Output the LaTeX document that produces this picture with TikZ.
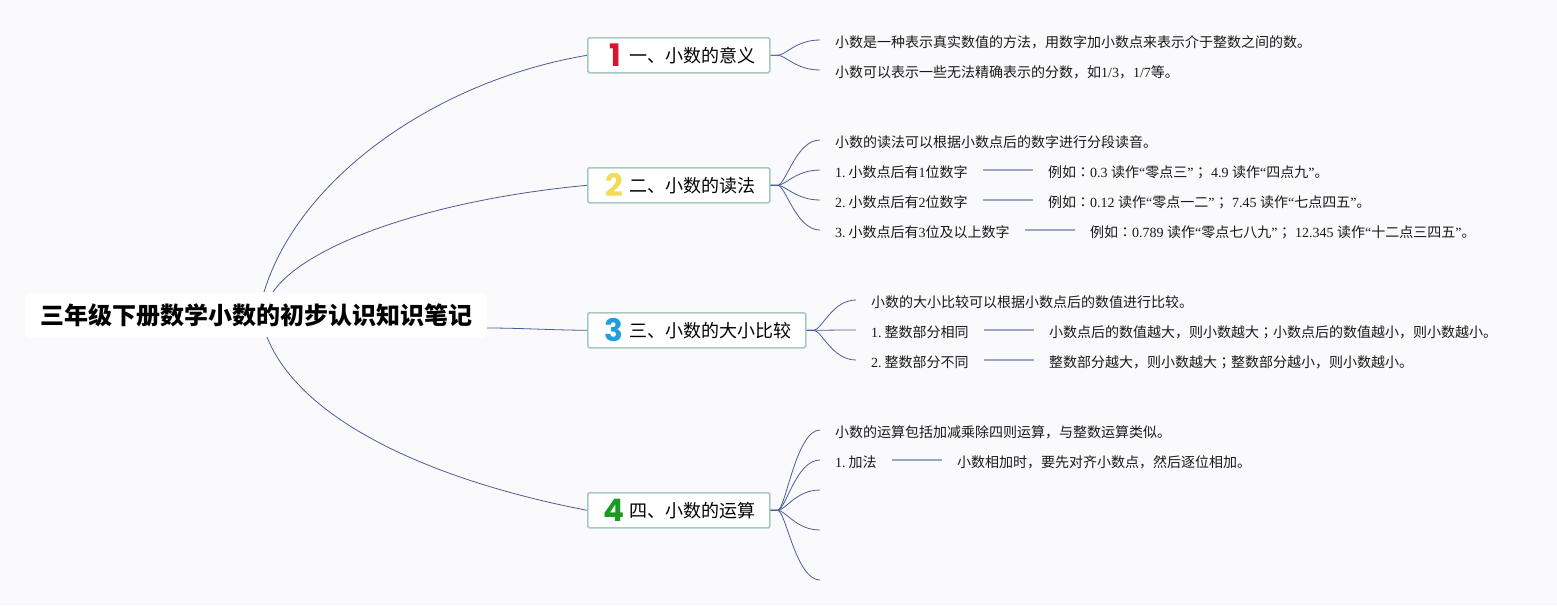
\documentclass[tikz,border=0pt]{standalone}
\usepackage{fontspec}
\setmainfont{Liberation Serif}
\newfontfamily\cjk{Noto Sans CJK SC}
\newfontfamily\cjkpunct{Noto Sans CJK TC}
\newfontfamily\iconfont{Poppins}[UprightFont=* Bold]
\newcommand\zh[1]{{\cjk #1}}
\newcommand\zp[1]{{\cjkpunct #1}}
\newcommand\numsp{\hspace{3pt}}
\definecolor{bgc}{HTML}{FAFAFC}
\definecolor{linec}{HTML}{4C5C98}
\definecolor{dashc}{HTML}{9BA6C6}
\definecolor{boxc}{HTML}{A5CBC0}
\definecolor{iconred}{HTML}{D9142E}
\definecolor{iconyellow}{HTML}{F2DC55}
\definecolor{iconblue}{HTML}{1F9FDD}
\definecolor{icongreen}{HTML}{1A9A20}
\tikzset{
  x=1pt,y=-1pt,
  rootbox/.style={fill=white,rounded corners=6pt,minimum width=462pt,minimum height=45pt,inner sep=0pt,font=\fontsize{24}{28}\cjk\bfseries,text=black},
  topic/.style={draw=boxc,line width=1.6pt,fill=white,rounded corners=1.5pt,minimum height=35pt,inner sep=0pt,anchor=north west},
  topictext/.style={anchor=base west,inner sep=0pt,font=\fontsize{18}{20}\cjk,text=black},
  icon/.style={anchor=base,inner sep=0pt,font=\fontsize{31}{32}\iconfont},
  leaf/.style={anchor=base west,inner sep=0pt,font=\fontsize{14}{16}\selectfont,text=black!90},
  branch/.style={draw=linec,line width=0.8pt},
  sub/.style={draw=dashc,line width=1.3pt,shorten <=15.5pt,shorten >=15pt},
}
\begin{document}
\begin{tikzpicture}
\useasboundingbox[fill=bgc] (0,0) rectangle (1557,605);
% root
\node[rootbox] (root) at (256,315) {三年级下册数学小数的初步认识知识笔记};
% topics
\node[topic,minimum width=182pt] (t1) at (587,37) {};
\node[topic,minimum width=182pt] (t2) at (587,167) {};
\node[topic,minimum width=218pt] (t3) at (587,312) {};
\node[topic,minimum width=182pt] (t4) at (587,492) {};
\node[icon,text=iconred] (i1) at (615,66) {1};
\node[icon,text=iconyellow] (i2) at (614,196) {2};
\node[icon,text=iconblue] (i3) at (614,341) {3};
\node[icon,text=icongreen] (i4) at (614,521) {4};
\node[topictext] (l1) at (629,62) {一、小数的意义};
\node[topictext] (l2) at (629,192) {二、小数的读法};
\node[topictext] (l3) at (629,337) {三、小数的大小比较};
\node[topictext] (l4) at (629,517) {四、小数的运算};
% root connectors
\coordinate (r1) at (264,292);
\coordinate (r2) at (273,292);
\coordinate (r4) at (267,337);
\draw[branch] (r1) .. controls (300,175) and (440,80) .. (t1.west);
\draw[branch] (r2) .. controls (305,245) and (430,200) .. (t2.west);
\draw[branch] (root.east) ++(0,13) .. controls (520,328) and (550,330) .. (t3.west);
\draw[branch] (r4) .. controls (300,420) and (430,480) .. (t4.west);
% leaves
\node[leaf] (a1) at (835,47) {\zh{小数是一种表示真实数值的方法，用数字加小数点来表示介于整数之间的数。}};
\node[leaf] (a2) at (835,77) {\zh{小数可以表示一些无法精确表示的分数，如}1/3\zh{，}1/7\zh{等。}};
\node[leaf] (b1) at (835,147) {\zh{小数的读法可以根据小数点后的数字进行分段读音。}};
\node[leaf] (b2) at (835,177) {1.\numsp\zh{小数点后有}1\zh{位数字}};
\node[leaf] (b3) at (835,207) {2.\numsp\zh{小数点后有}2\zh{位数字}};
\node[leaf] (b4) at (835,237) {3.\numsp\zh{小数点后有}3\zh{位及以上数字}};
\node[leaf] (b2r) at (1048,177) {\zh{例如}\zp{：}0.3 \zh{读作}“\zh{零点三}”\zp{；} 4.9 \zh{读作}“\zh{四点九}”\zh{。}};
\node[leaf] (b3r) at (1048,207) {\zh{例如}\zp{：}0.12 \zh{读作}“\zh{零点一二}”\zp{；} 7.45 \zh{读作}“\zh{七点四五}”\zh{。}};
\node[leaf] (b4r) at (1090,237) {\zh{例如}\zp{：}0.789 \zh{读作}“\zh{零点七八九}”\zp{；} 12.345 \zh{读作}“\zh{十二点三四五}”\zh{。}};
\node[leaf] (c1) at (871,307) {\zh{小数的大小比较可以根据小数点后的数值进行比较。}};
\node[leaf] (c2) at (871,337) {1.\numsp\zh{整数部分相同}};
\node[leaf] (c3) at (871,367) {2.\numsp\zh{整数部分不同}};
\node[leaf] (c2r) at (1049,337) {\zh{小数点后的数值越大，则小数越大}\zp{；}\zh{小数点后的数值越小，则小数越小。}};
\node[leaf] (c3r) at (1049,367) {\zh{整数部分越大，则小数越大}\zp{；}\zh{整数部分越小，则小数越小。}};
\node[leaf] (d1) at (835,437) {\zh{小数的运算包括加减乘除四则运算，与整数运算类似。}};
\node[leaf] (d2) at (835,467) {1.\numsp\zh{加法}};
\node[leaf] (d2r) at (957,467) {\zh{小数相加时，要先对齐小数点，然后逐位相加。}};
% branch end points
\coordinate (ea1) at (820,40); \coordinate (ea2) at (820,70);
\coordinate (eb1) at (820,140); \coordinate (eb2) at (820,170); \coordinate (eb3) at (820,200); \coordinate (eb4) at (820,230);
\coordinate (ec1) at (856,300); \coordinate (ec2) at (856,330); \coordinate (ec3) at (856,360);
\coordinate (ed1) at (820,430); \coordinate (ed2) at (820,460); \coordinate (ed3) at (820,490); \coordinate (ed4) at (820,530); \coordinate (ed5) at (820,580);
\foreach \e in {ea1,ea2} \draw[branch] (t1.east) -- ++(7,0) .. controls +(8,0) and +(-24,0) .. (\e);
\foreach \e in {eb1,eb2,eb3,eb4} \draw[branch] (t2.east) -- ++(7,0) .. controls +(8,0) and +(-24,0) .. (\e);
\foreach \e in {ec1,ec2,ec3} \draw[branch] (t3.east) -- ++(7,0) .. controls +(8,0) and +(-24,0) .. (\e);
\foreach \e in {ed1,ed2,ed3,ed4,ed5} \draw[branch] (t4.east) -- ++(7,0) .. controls +(8,0) and +(-24,0) .. (\e);
% sub connectors
\draw[sub] (b2.east |- eb2) -- (b2r.west |- eb2);
\draw[sub] (b3.east |- eb3) -- (b3r.west |- eb3);
\draw[sub] (b4.east |- eb4) -- (b4r.west |- eb4);
\draw[sub] (c2.east |- ec2) -- (c2r.west |- ec2);
\draw[sub] (c3.east |- ec3) -- (c3r.west |- ec3);
\draw[sub] (d2.east |- ed2) -- (d2r.west |- ed2);
\end{tikzpicture}
\end{document}
